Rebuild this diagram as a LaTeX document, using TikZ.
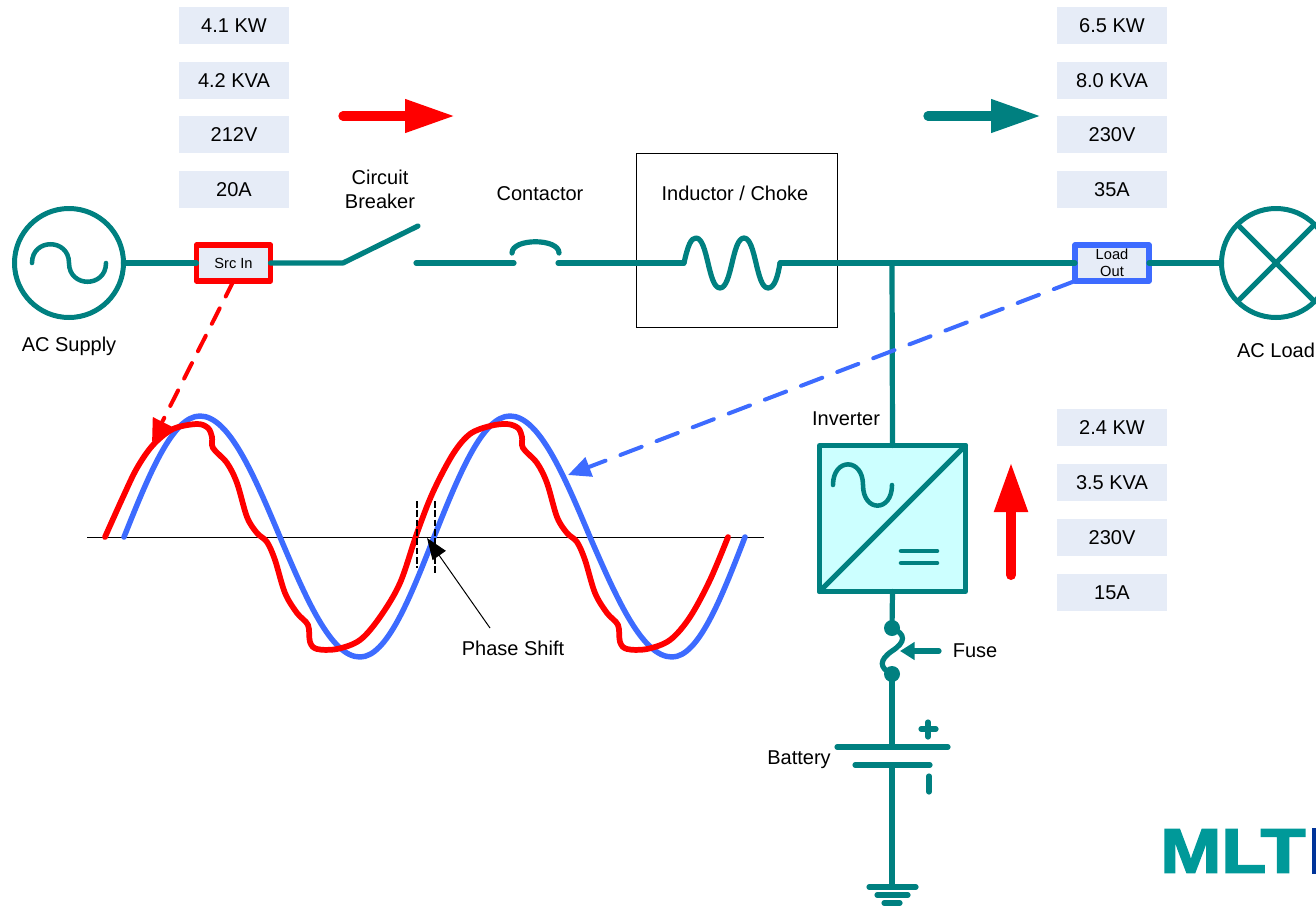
\documentclass[tikz,border=0pt]{standalone}
\usepackage{fontspec}
\setmainfont{Liberation Sans}
\newfontfamily\logofont[FakeBold=2.5]{Liberation Sans Bold}
\usetikzlibrary{arrows.meta}
\definecolor{tealc}{HTML}{008080}
\definecolor{bluec}{HTML}{3D6BFF}
\definecolor{boxc}{HTML}{E6ECF7}
\definecolor{logoc}{HTML}{009999}
\definecolor{navyc}{HTML}{003399}
\definecolor{invc}{HTML}{CCFFFF}
\tikzset{
  x=0.75pt,y=-0.75pt,
  lbl/.style={inner sep=0pt,font=\fontsize{15}{18}\selectfont,align=center},
  val/.style={fill=boxc,minimum width=82.5pt,minimum height=27.75pt,inner sep=0pt,font=\fontsize{15}{18}\selectfont},
  wire/.style={draw=tealc,line width=3.9pt,line cap=round,line join=round},
  thin wire/.style={draw=tealc,line width=3.4pt,line cap=round,line join=round},
  srcbox/.style={draw=red,line width=4.2pt,line join=round,fill=boxc,minimum width=55.5pt,minimum height=27pt,inner sep=0pt,outer sep=0pt,font=\fontsize{11}{13.5}\selectfont,align=center},
  loadbox/.style={draw=bluec,line width=4pt,line join=round,fill=boxc,minimum width=55.5pt,minimum height=27pt,inner sep=0pt,outer sep=0pt,font=\fontsize{11}{13.5}\selectfont,align=center},
  disc/.style={circle,draw=tealc,line width=3.75pt,minimum size=81.75pt,inner sep=0pt,outer sep=0pt},
  redwave/.style={draw=red,line width=4.3pt,line cap=round,line join=round},
  bluewave/.style={draw=bluec,line width=4.1pt,line cap=round,line join=round},
  blockred/.style={draw=red,line width=7pt,line cap=round,-{Triangle[length=37.5pt,width=23.5pt]}},
  blockteal/.style={draw=tealc,line width=7pt,line cap=round,-{Triangle[length=37.5pt,width=23.5pt]}},
  blockup/.style={draw=red,line width=7.5pt,line cap=round,-{Triangle[length=37.5pt,width=23.5pt]}},
  dashred/.style={draw=red,line width=3pt,line cap=round,dash pattern=on 13pt off 10pt,-{Triangle[length=17pt,width=15pt]}},
  dashblue/.style={draw=bluec,line width=3pt,line cap=round,dash pattern=on 17pt off 12pt,-{Triangle[length=17pt,width=15pt]}},
  marker/.style={black,line width=1pt,dash pattern=on 5pt off 2pt},
}
\begin{document}
\begin{tikzpicture}
\useasboundingbox (0,0) rectangle (1316,907);
\clip (0,0) rectangle (1316,907);
% value boxes
\node[val] (a1) at (234,25.5) {4.1 KW};
\node[val] (a2) at (234,80.5) {4.2 KVA};
\node[val] (a3) at (234,134.5) {212V};
\node[val] (a4) at (234,189.5) {20A};
\node[val] (b1) at (1112,25.5) {6.5 KW};
\node[val] (b2) at (1112,80.5) {8.0 KVA};
\node[val] (b3) at (1112,134.5) {230V};
\node[val] (b4) at (1112,189.5) {35A};
\node[val] (c1) at (1112,427.5) {2.4 KW};
\node[val] (c2) at (1112,482.5) {3.5 KVA};
\node[val] (c3) at (1112,537.5) {230V};
\node[val] (c4) at (1112,592.5) {15A};
% inductor frame
\node[draw=black,line width=0.75pt,minimum width=150.75pt,minimum height=130.5pt,inner sep=0pt,outer sep=0pt] (choke) at (736.5,240) {};
% block arrows
\coordinate (ra0) at (343,116); \coordinate (ra1) at (455,116);
\coordinate (ta0) at (928,116); \coordinate (ta1) at (1041,116);
\coordinate (ua0) at (1011,575); \coordinate (ua1) at (1011,462);
\draw[blockred] (ra0) -- (ra1);
\draw[blockteal] (ta0) -- (ta1);
\draw[blockup] (ua0) -- (ua1);
% main nodes
\node[disc] (acs) at (69,263) {};
\node[disc] (acl) at (1276,263) {};
\node[srcbox] (src) at (233.5,263) {Src In};
\node[loadbox] (load) at (1112,263) {Load\\[-1pt]Out};
\node[draw=tealc,line width=3.75pt,fill=invc,minimum size=109.5pt,inner sep=0pt,outer sep=0pt,line join=round] (inv) at (892.5,518.5) {};
% symbols in discs
\draw[thin wire] (32,263) .. controls (32,238) and (69,238) .. (69,263) .. controls (69,288) and (106,288) .. (106,263);
\draw[line width=3.75pt,draw=tealc] (acl.45) -- (acl.225) (acl.135) -- (acl.315);
% inverter symbols
\draw[line width=3.75pt,draw=tealc,line cap=round] (inv.south west) -- (inv.north east);
\draw[thin wire] (833,485) .. controls (833,457.5) and (863,457.5) .. (863,485) .. controls (863,512.5) and (892,512.5) .. (892,485);
\draw[thin wire] (901,551) -- (937,551);
\draw[thin wire] (901,563) -- (937,563);
% main line
\coordinate (sw0) at (343,263);
\coordinate (sw1) at (418,226);
\coordinate (ct0) at (416,263);
\coordinate (ct1) at (514,263);
\coordinate (ct2) at (558,263);
\coordinate (ind0) at (684,263);
\coordinate (ind1) at (780,263);
\coordinate (junc) at (892,263);
\draw[wire] (acs.east) -- (src.west);
\draw[wire] (src.east) -- (sw0) -- (sw1);
\draw[wire] (ct0) -- (ct1);
\draw[wire] (512,253) .. controls (512,238) and (559,238) .. (559,253);
\draw[wire] (ct2) -- (ind0);
\draw[wire] (ind0) .. controls (688,245) and (691,238) .. (696,238) .. controls (708,238) and (708,288) .. (720,288) .. controls (732,288) and (732,238) .. (744,238) .. controls (756,238) and (756,288) .. (768,288) .. controls (775,288) and (778,275) .. (ind1);
\draw[wire] (ind1) -- (load.west);
\draw[wire] (load.east) -- (acl.west);
\draw[wire] (junc) -- (inv.north);
% fuse and battery
\coordinate (fu0) at (892,628);
\coordinate (fu1) at (892,674);
\coordinate (bat0) at (892,747);
\coordinate (bat1) at (892,765);
\coordinate (gnd) at (892,887);
\draw[wire] (inv.south) -- (fu0);
\fill[tealc] (fu0) circle[radius=8];
\fill[tealc] (fu1) circle[radius=8];
\draw[wire] (fu0) .. controls (906,634) and (906,642) .. (892,651) .. controls (879,660) and (879,668) .. (fu1);
\draw[wire] (fu1) -- (bat0);
\draw[wire] (837,747) -- (948,747);
\draw[wire] (855,765) -- (930,765);
\draw[wire] (bat1) -- (gnd);
\draw[wire] (869,887) -- (916,887);
\draw[wire] (877,895) -- (908,895);
\draw[wire] (884,903) -- (900,903);
\draw[wire] (921,729) -- (936,729);
\draw[wire] (928,722) -- (928,737);
\draw[wire] (929,776) -- (929,792);
\coordinate (fa0) at (939,651); \coordinate (fa1) at (900,651);
\draw[wire,-{Triangle[length=11pt,width=13pt]}] (fa0) -- (fa1);
% axis and waves
\coordinate (ax0) at (87,537); \coordinate (ax1) at (764,537);
\draw[black,line width=0.75pt] (ax0) -- (ax1);
\draw[bluewave] (124,537) .. controls (148.8,475) and (172.5,416) .. (200,416)
  .. controls (229,416) and (253.9,475) .. (280,537)
  .. controls (306.1,598.5) and (331,657) .. (360,657)
  .. controls (386.8,657) and (409.9,598.5) .. (434,537)
  .. controls (458.8,475) and (482.5,416) .. (510,416)
  .. controls (539,416) and (563.9,475) .. (590,537)
  .. controls (616.7,598.5) and (642.3,657) .. (672,657)
  .. controls (698.4,657) and (721.2,598.5) .. (745,537);
\draw[redwave] plot[smooth,tension=0.55] coordinates {(105,537) (123,497) (137,468) (153,445) (173,429) (197,424) (208,428) (212,437) (213,448) (227,463) (237,483) (247,517) (257,533) (267,542) (275,560) (285,593) (297,613) (308,625) (310,642) (317,649) (337,649) (360,640) (380,617) (400,583) (417,533) (433,492) (453,454) (470,434) (490,426) (507,424) (518,428) (522,437) (523,448) (537,463) (547,483) (557,517) (567,533) (577,542) (585,560) (595,593) (607,613) (618,625) (620,642) (627,649) (647,649) (670,640) (690,617) (710,580) (728,537)};
\draw[marker] (417,501) -- (417,568);
\draw[marker] (435,501) -- (435,573);
% dashed pointers
\coordinate (rp) at (152,442);
\coordinate (bp) at (568,475);
\draw[dashred] (src.south) -- (rp);
\draw[dashblue] (load.south west) -- (bp);
% phase shift
\node[lbl] (ps) at (513,648) {Phase Shift};
\coordinate (ps0) at (490,628); \coordinate (ps1) at (427,538);
\draw[black,line width=0.75pt,-{Triangle[length=16pt,width=12pt]}] (ps0) -- (ps1);
% labels
\node[lbl] (t1) at (69,346) {AC Supply};
\node[lbl] (t2) at (1276,350) {AC Load};
\node[lbl] (t3) at (380,189) {Circuit\\Breaker};
\node[lbl] (t4) at (540,194) {Contactor};
\node[lbl] (t5) at (735,193) {Inductor / Choke};
\node[lbl] (t6) at (846,419) {Inverter};
\node[lbl] (t7) at (975,651) {Fuse};
\node[lbl] (t8) at (799,760) {Battery};
% logo
\node[inner sep=0pt,anchor=west,text=logoc,font=\logofont\fontsize{47}{47}\selectfont] (logo) at (1160,851) {\scalebox{1.17}[1]{MLT}};
\fill[navyc] (1312,828) rectangle (1316,874);
\end{tikzpicture}
\end{document}
